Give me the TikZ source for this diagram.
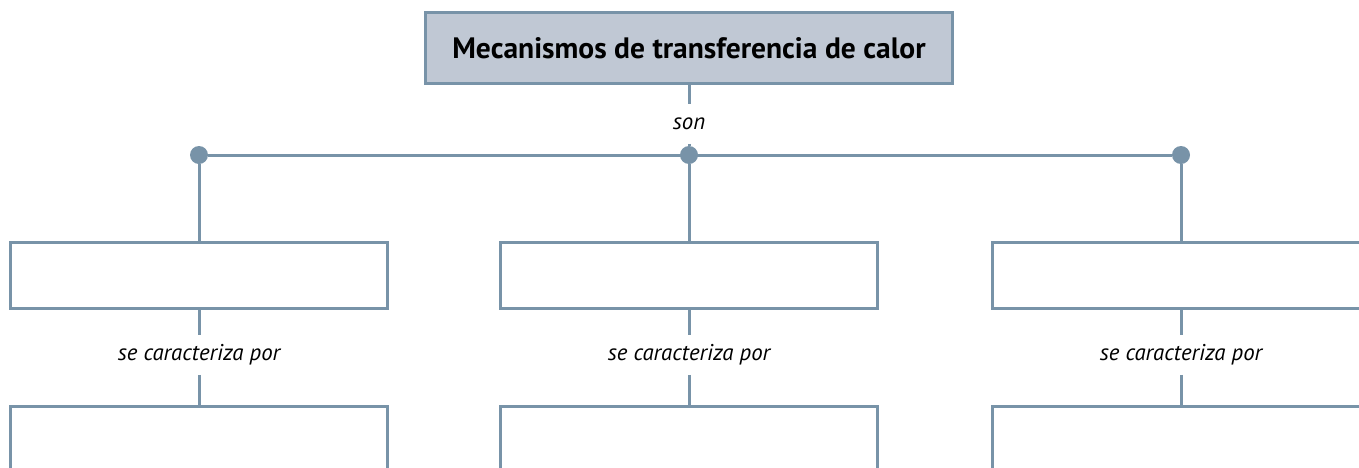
\documentclass[tikz,border=0pt]{standalone}
\usepackage{fontspec}
\setmainfont{PT Sans}
\usepackage{tikz}
\usetikzlibrary{positioning}
\usepackage{xcolor}
\definecolor{mylinea}{RGB}{120,147,168}
\definecolor{mygris}{RGB}{192,200,212}
\tikzset{
  titulo/.style={rectangle,draw=mylinea,fill=mygris,line width=0.6mm,align=center,
    minimum width=10.56cm,minimum height=1.44cm,font=\bfseries\fontsize{16.8}{19}\selectfont},
  caja/.style={rectangle,draw=mylinea,line width=0.6mm,minimum width=7.54cm,minimum height=1.32cm},
  cajabaja/.style={rectangle,draw=mylinea,line width=0.6mm,minimum width=7.54cm,
    minimum height=3cm,anchor=north},
  enlace/.style={line width=0.6mm,color=mylinea},
  etiq/.style={font=\itshape\fontsize{13}{15}\selectfont,inner sep=0pt,minimum height=0.78cm},
  punto/.style={circle,fill=mylinea,minimum size=0.36cm,inner sep=0pt},
}

\begin{document}
\begin{tikzpicture}[x=0.02cm,y=-0.02cm]
  \useasboundingbox (0,0) rectangle (1359,467);
  % concepto principal
  \node[titulo] (tit) at (689,48) {Mecanismos de transferencia de calor};
  \node[etiq] (son) at (689,124) {son};
  % puntos de reparto
  \node[punto] (pa) at (199,155) {};
  \node[punto] (pb) at (689,155) {};
  \node[punto] (pc) at (1181,155) {};
  % mecanismos
  \node[caja] (m1) at (199,275) {};
  \node[caja] (m2) at (689,275) {};
  \node[caja] (m3) at (1181,275) {};
  \node[etiq] (e1) at (199,355) {se caracteriza por};
  \node[etiq] (e2) at (689,355) {se caracteriza por};
  \node[etiq] (e3) at (1181,355) {se caracteriza por};
  \node[cajabaja] (c1) at (199,405) {};
  \node[cajabaja] (c2) at (689,405) {};
  \node[cajabaja] (c3) at (1181,405) {};
  % conectores
  \draw[enlace] (tit) -- (son);
  \draw[enlace] (son) -- (pb);
  \draw[enlace] (pa) -- (pc);
  \foreach \i/\p in {1/pa,2/pb,3/pc}{
    \draw[enlace] (\p) -- (m\i);
    \draw[enlace] (m\i) -- (e\i);
    \draw[enlace] (e\i) -- (c\i);
  }
\end{tikzpicture}
\end{document}
